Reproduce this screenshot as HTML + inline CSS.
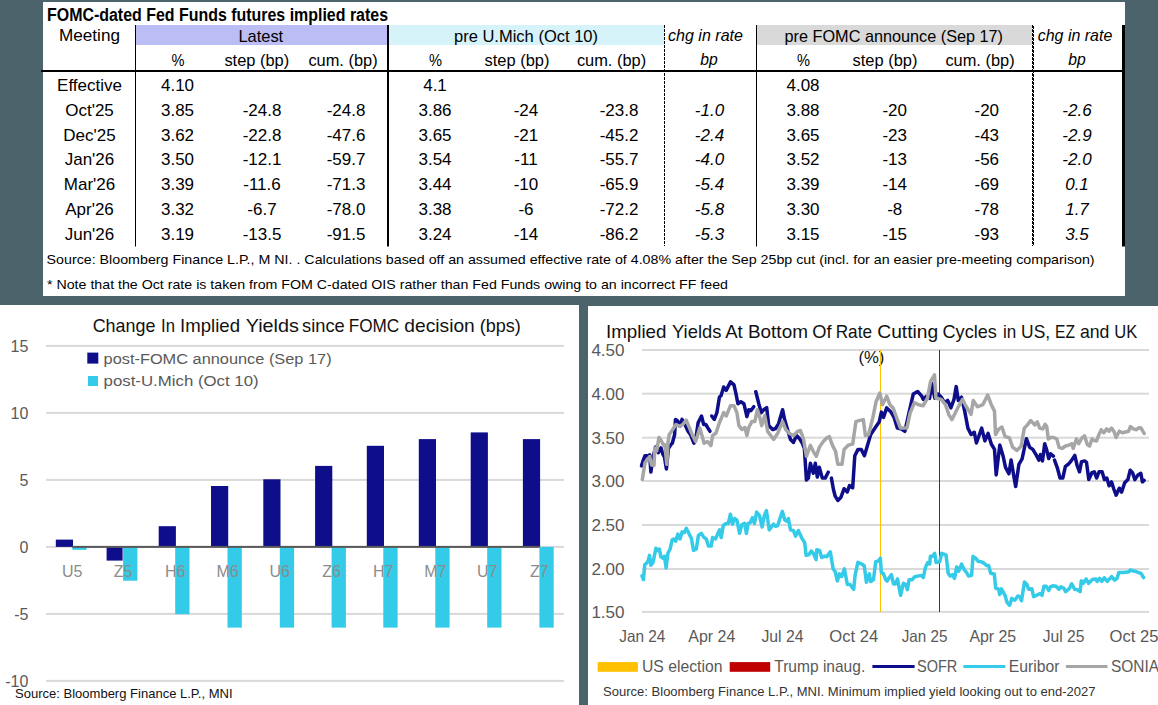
<!DOCTYPE html>
<html><head><meta charset="utf-8"><style>
html,body{margin:0;padding:0;background:#4b646b;}
body{width:1158px;height:705px;overflow:hidden;}
svg{display:block;font-family:"Liberation Sans",sans-serif;}
</style></head><body>
<svg width="1158" height="705" viewBox="0 0 1158 705">
<rect x="0" y="0" width="1158" height="705" fill="#4b646b" />
<rect x="43" y="2" width="1082" height="294" fill="#fff" />
<text x="47" y="21" font-size="18" fill="#000" text-anchor="start" font-weight="bold" textLength="341" lengthAdjust="spacingAndGlyphs">FOMC-dated Fed Funds futures implied rates</text>
<rect x="136" y="25" width="251" height="20" fill="#bdbdf5" />
<rect x="389" y="25" width="275" height="20" fill="#d5f3f8" />
<rect x="757" y="25" width="275" height="20" fill="#d9d9d9" />
<line x1="135.5" y1="25" x2="135.5" y2="246.5" stroke="#000" stroke-width="1" />
<line x1="388" y1="25" x2="388" y2="246.5" stroke="#000" stroke-width="2" />
<line x1="664.5" y1="25" x2="664.5" y2="246" stroke="#000" stroke-width="1" stroke-dasharray="3,1"/>
<line x1="756.5" y1="25" x2="756.5" y2="246.5" stroke="#000" stroke-width="1" />
<line x1="1032.5" y1="25" x2="1032.5" y2="246" stroke="#000" stroke-width="1" stroke-dasharray="3,1"/>
<line x1="1033.5" y1="26" x2="1033.5" y2="246" stroke="#000" stroke-width="1" stroke-dasharray="3,1"/>
<rect x="1122" y="25" width="3" height="221.5" fill="#000" />
<rect x="41" y="70" width="1084" height="2" fill="#000" />
<text x="89.5" y="41.2" font-size="17" fill="#000" text-anchor="middle" textLength="61" lengthAdjust="spacingAndGlyphs">Meeting</text>
<text x="260.8" y="42" font-size="17" fill="#000" text-anchor="middle" textLength="44.8" lengthAdjust="spacingAndGlyphs">Latest</text>
<text x="526" y="42" font-size="17" fill="#000" text-anchor="middle" textLength="144" lengthAdjust="spacingAndGlyphs">pre U.Mich (Oct 10)</text>
<text x="705.5" y="40.7" font-size="17" fill="#000" text-anchor="middle" font-style="italic" textLength="75" lengthAdjust="spacingAndGlyphs">chg in rate</text>
<text x="893.8" y="42" font-size="17" fill="#000" text-anchor="middle" textLength="218.4" lengthAdjust="spacingAndGlyphs">pre FOMC announce (Sep 17)</text>
<text x="1075" y="40.7" font-size="17" fill="#000" text-anchor="middle" font-style="italic" textLength="74.6" lengthAdjust="spacingAndGlyphs">chg in rate</text>
<text x="178" y="65.5" font-size="17" fill="#000" text-anchor="middle" textLength="13" lengthAdjust="spacingAndGlyphs">%</text>
<text x="256.8" y="65.5" font-size="17" fill="#000" text-anchor="middle" textLength="64.8" lengthAdjust="spacingAndGlyphs">step (bp)</text>
<text x="343" y="65.5" font-size="17" fill="#000" text-anchor="middle" textLength="69.2" lengthAdjust="spacingAndGlyphs">cum. (bp)</text>
<text x="435.4" y="65.5" font-size="17" fill="#000" text-anchor="middle" textLength="13" lengthAdjust="spacingAndGlyphs">%</text>
<text x="517" y="65.5" font-size="17" fill="#000" text-anchor="middle" textLength="64.8" lengthAdjust="spacingAndGlyphs">step (bp)</text>
<text x="611.5" y="65.5" font-size="17" fill="#000" text-anchor="middle" textLength="69.2" lengthAdjust="spacingAndGlyphs">cum. (bp)</text>
<text x="803.5" y="65.5" font-size="17" fill="#000" text-anchor="middle" textLength="13" lengthAdjust="spacingAndGlyphs">%</text>
<text x="885" y="65.5" font-size="17" fill="#000" text-anchor="middle" textLength="64.8" lengthAdjust="spacingAndGlyphs">step (bp)</text>
<text x="980" y="65.5" font-size="17" fill="#000" text-anchor="middle" textLength="69.2" lengthAdjust="spacingAndGlyphs">cum. (bp)</text>
<text x="709" y="65.0" font-size="17" fill="#000" text-anchor="middle" font-style="italic" textLength="17.5" lengthAdjust="spacingAndGlyphs">bp</text>
<text x="1077" y="65.0" font-size="17" fill="#000" text-anchor="middle" font-style="italic" textLength="17.5" lengthAdjust="spacingAndGlyphs">bp</text>
<text x="89.5" y="90.8" font-size="17" fill="#000" text-anchor="middle">Effective</text>
<text x="177.5" y="90.8" font-size="17" fill="#000" text-anchor="middle">4.10</text>
<text x="435" y="90.8" font-size="17" fill="#000" text-anchor="middle">4.1</text>
<text x="803" y="90.8" font-size="17" fill="#000" text-anchor="middle">4.08</text>
<text x="89.5" y="115.65" font-size="17" fill="#000" text-anchor="middle">Oct'25</text>
<text x="177.5" y="115.65" font-size="17" fill="#000" text-anchor="middle">3.85</text>
<text x="262" y="115.65" font-size="17" fill="#000" text-anchor="middle">-24.8</text>
<text x="346" y="115.65" font-size="17" fill="#000" text-anchor="middle">-24.8</text>
<text x="435" y="115.65" font-size="17" fill="#000" text-anchor="middle">3.86</text>
<text x="526" y="115.65" font-size="17" fill="#000" text-anchor="middle">-24</text>
<text x="619" y="115.65" font-size="17" fill="#000" text-anchor="middle">-23.8</text>
<text x="709.5" y="115.65" font-size="17" fill="#000" text-anchor="middle" font-style="italic">-1.0</text>
<text x="803" y="115.65" font-size="17" fill="#000" text-anchor="middle">3.88</text>
<text x="894.7" y="115.65" font-size="17" fill="#000" text-anchor="middle">-20</text>
<text x="986.8" y="115.65" font-size="17" fill="#000" text-anchor="middle">-20</text>
<text x="1077" y="115.65" font-size="17" fill="#000" text-anchor="middle" font-style="italic">-2.6</text>
<text x="89.5" y="140.5" font-size="17" fill="#000" text-anchor="middle">Dec'25</text>
<text x="177.5" y="140.5" font-size="17" fill="#000" text-anchor="middle">3.62</text>
<text x="262" y="140.5" font-size="17" fill="#000" text-anchor="middle">-22.8</text>
<text x="346" y="140.5" font-size="17" fill="#000" text-anchor="middle">-47.6</text>
<text x="435" y="140.5" font-size="17" fill="#000" text-anchor="middle">3.65</text>
<text x="526" y="140.5" font-size="17" fill="#000" text-anchor="middle">-21</text>
<text x="619" y="140.5" font-size="17" fill="#000" text-anchor="middle">-45.2</text>
<text x="709.5" y="140.5" font-size="17" fill="#000" text-anchor="middle" font-style="italic">-2.4</text>
<text x="803" y="140.5" font-size="17" fill="#000" text-anchor="middle">3.65</text>
<text x="894.7" y="140.5" font-size="17" fill="#000" text-anchor="middle">-23</text>
<text x="986.8" y="140.5" font-size="17" fill="#000" text-anchor="middle">-43</text>
<text x="1077" y="140.5" font-size="17" fill="#000" text-anchor="middle" font-style="italic">-2.9</text>
<text x="89.5" y="165.35000000000002" font-size="17" fill="#000" text-anchor="middle">Jan'26</text>
<text x="177.5" y="165.35000000000002" font-size="17" fill="#000" text-anchor="middle">3.50</text>
<text x="262" y="165.35000000000002" font-size="17" fill="#000" text-anchor="middle">-12.1</text>
<text x="346" y="165.35000000000002" font-size="17" fill="#000" text-anchor="middle">-59.7</text>
<text x="435" y="165.35000000000002" font-size="17" fill="#000" text-anchor="middle">3.54</text>
<text x="526" y="165.35000000000002" font-size="17" fill="#000" text-anchor="middle">-11</text>
<text x="619" y="165.35000000000002" font-size="17" fill="#000" text-anchor="middle">-55.7</text>
<text x="709.5" y="165.35000000000002" font-size="17" fill="#000" text-anchor="middle" font-style="italic">-4.0</text>
<text x="803" y="165.35000000000002" font-size="17" fill="#000" text-anchor="middle">3.52</text>
<text x="894.7" y="165.35000000000002" font-size="17" fill="#000" text-anchor="middle">-13</text>
<text x="986.8" y="165.35000000000002" font-size="17" fill="#000" text-anchor="middle">-56</text>
<text x="1077" y="165.35000000000002" font-size="17" fill="#000" text-anchor="middle" font-style="italic">-2.0</text>
<text x="89.5" y="190.2" font-size="17" fill="#000" text-anchor="middle">Mar'26</text>
<text x="177.5" y="190.2" font-size="17" fill="#000" text-anchor="middle">3.39</text>
<text x="262" y="190.2" font-size="17" fill="#000" text-anchor="middle">-11.6</text>
<text x="346" y="190.2" font-size="17" fill="#000" text-anchor="middle">-71.3</text>
<text x="435" y="190.2" font-size="17" fill="#000" text-anchor="middle">3.44</text>
<text x="526" y="190.2" font-size="17" fill="#000" text-anchor="middle">-10</text>
<text x="619" y="190.2" font-size="17" fill="#000" text-anchor="middle">-65.9</text>
<text x="709.5" y="190.2" font-size="17" fill="#000" text-anchor="middle" font-style="italic">-5.4</text>
<text x="803" y="190.2" font-size="17" fill="#000" text-anchor="middle">3.39</text>
<text x="894.7" y="190.2" font-size="17" fill="#000" text-anchor="middle">-14</text>
<text x="986.8" y="190.2" font-size="17" fill="#000" text-anchor="middle">-69</text>
<text x="1077" y="190.2" font-size="17" fill="#000" text-anchor="middle" font-style="italic">0.1</text>
<text x="89.5" y="215.05" font-size="17" fill="#000" text-anchor="middle">Apr'26</text>
<text x="177.5" y="215.05" font-size="17" fill="#000" text-anchor="middle">3.32</text>
<text x="262" y="215.05" font-size="17" fill="#000" text-anchor="middle">-6.7</text>
<text x="346" y="215.05" font-size="17" fill="#000" text-anchor="middle">-78.0</text>
<text x="435" y="215.05" font-size="17" fill="#000" text-anchor="middle">3.38</text>
<text x="526" y="215.05" font-size="17" fill="#000" text-anchor="middle">-6</text>
<text x="619" y="215.05" font-size="17" fill="#000" text-anchor="middle">-72.2</text>
<text x="709.5" y="215.05" font-size="17" fill="#000" text-anchor="middle" font-style="italic">-5.8</text>
<text x="803" y="215.05" font-size="17" fill="#000" text-anchor="middle">3.30</text>
<text x="894.7" y="215.05" font-size="17" fill="#000" text-anchor="middle">-8</text>
<text x="986.8" y="215.05" font-size="17" fill="#000" text-anchor="middle">-78</text>
<text x="1077" y="215.05" font-size="17" fill="#000" text-anchor="middle" font-style="italic">1.7</text>
<text x="89.5" y="239.90000000000003" font-size="17" fill="#000" text-anchor="middle">Jun'26</text>
<text x="177.5" y="239.90000000000003" font-size="17" fill="#000" text-anchor="middle">3.19</text>
<text x="262" y="239.90000000000003" font-size="17" fill="#000" text-anchor="middle">-13.5</text>
<text x="346" y="239.90000000000003" font-size="17" fill="#000" text-anchor="middle">-91.5</text>
<text x="435" y="239.90000000000003" font-size="17" fill="#000" text-anchor="middle">3.24</text>
<text x="526" y="239.90000000000003" font-size="17" fill="#000" text-anchor="middle">-14</text>
<text x="619" y="239.90000000000003" font-size="17" fill="#000" text-anchor="middle">-86.2</text>
<text x="709.5" y="239.90000000000003" font-size="17" fill="#000" text-anchor="middle" font-style="italic">-5.3</text>
<text x="803" y="239.90000000000003" font-size="17" fill="#000" text-anchor="middle">3.15</text>
<text x="894.7" y="239.90000000000003" font-size="17" fill="#000" text-anchor="middle">-15</text>
<text x="986.8" y="239.90000000000003" font-size="17" fill="#000" text-anchor="middle">-93</text>
<text x="1077" y="239.90000000000003" font-size="17" fill="#000" text-anchor="middle" font-style="italic">3.5</text>
<text x="46.6" y="263.9" font-size="12.9" fill="#000" text-anchor="start" textLength="1048" lengthAdjust="spacingAndGlyphs">Source: Bloomberg Finance L.P., M NI. . Calculations based off an assumed effective rate of 4.08% after the Sep 25bp cut (incl. for an easier pre-meeting comparison)</text>
<text x="47" y="288.6" font-size="12.9" fill="#000" text-anchor="start" textLength="681" lengthAdjust="spacingAndGlyphs">* Note that the Oct rate is taken from FOM C-dated OIS rather than Fed Funds owing to an incorrect FF feed</text>
<rect x="0" y="305" width="579" height="400" fill="#fff" />
<text x="92.7" y="332.4" font-size="19" fill="#111" text-anchor="start" textLength="62.7" lengthAdjust="spacingAndGlyphs">Change</text>
<text x="161.1" y="332.4" font-size="19" fill="#111" text-anchor="start" textLength="13.9" lengthAdjust="spacingAndGlyphs">In</text>
<text x="180.1" y="332.4" font-size="19" fill="#111" text-anchor="start" textLength="59.9" lengthAdjust="spacingAndGlyphs">Implied</text>
<text x="245.7" y="332.4" font-size="19" fill="#111" text-anchor="start" textLength="53.2" lengthAdjust="spacingAndGlyphs">Yields</text>
<text x="302" y="332.4" font-size="19" fill="#111" text-anchor="start" textLength="42.7" lengthAdjust="spacingAndGlyphs">since</text>
<text x="348.7" y="332.4" font-size="19" fill="#111" text-anchor="start" textLength="50.6" lengthAdjust="spacingAndGlyphs">FOMC</text>
<text x="404.3" y="332.4" font-size="19" fill="#111" text-anchor="start" textLength="70.5" lengthAdjust="spacingAndGlyphs">decision</text>
<text x="479.7" y="332.4" font-size="19" fill="#111" text-anchor="start" textLength="41.2" lengthAdjust="spacingAndGlyphs">(bps)</text>
<rect x="46" y="344.9" width="518" height="2" fill="#d9d9d9" />
<text x="28.4" y="351.5" font-size="16" fill="#595959" text-anchor="end">15</text>
<rect x="46" y="411.9" width="518" height="2" fill="#d9d9d9" />
<text x="28.4" y="418.5" font-size="16" fill="#595959" text-anchor="end">10</text>
<rect x="46" y="478.9" width="518" height="2" fill="#d9d9d9" />
<text x="28.4" y="485.5" font-size="16" fill="#595959" text-anchor="end">5</text>
<rect x="46" y="545.9" width="518" height="2" fill="#d9d9d9" />
<text x="28.4" y="552.5" font-size="16" fill="#595959" text-anchor="end">0</text>
<rect x="46" y="612.9" width="518" height="2" fill="#d9d9d9" />
<text x="28.4" y="619.5" font-size="16" fill="#595959" text-anchor="end">-5</text>
<rect x="46" y="679.9" width="518" height="2" fill="#d9d9d9" />
<text x="28.4" y="686.5" font-size="16" fill="#595959" text-anchor="end">-10</text>
<rect x="55.8" y="539.6" width="17.2" height="7.3" fill="#0e0e8a" />
<rect x="72.3" y="546.9" width="14.3" height="2.98" fill="#33cbe8" />
<rect x="106.6" y="546.9" width="16.0" height="13.7" fill="#0e0e8a" />
<rect x="123.1" y="546.9" width="14.3" height="33.8" fill="#33cbe8" />
<rect x="158.7" y="526.2" width="17.2" height="20.7" fill="#0e0e8a" />
<rect x="175.2" y="546.9" width="14.3" height="67.3" fill="#33cbe8" />
<rect x="211.0" y="486.0" width="17.2" height="60.9" fill="#0e0e8a" />
<rect x="227.5" y="546.9" width="14.3" height="80.7" fill="#33cbe8" />
<rect x="263.3" y="479.3" width="17.2" height="67.6" fill="#0e0e8a" />
<rect x="279.8" y="546.9" width="14.3" height="80.7" fill="#33cbe8" />
<rect x="315.1" y="465.9" width="17.2" height="81.0" fill="#0e0e8a" />
<rect x="331.6" y="546.9" width="14.3" height="80.7" fill="#33cbe8" />
<rect x="366.8" y="445.8" width="17.2" height="101.1" fill="#0e0e8a" />
<rect x="383.3" y="546.9" width="14.3" height="80.7" fill="#33cbe8" />
<rect x="418.8" y="439.1" width="17.2" height="107.8" fill="#0e0e8a" />
<rect x="435.3" y="546.9" width="14.3" height="80.7" fill="#33cbe8" />
<rect x="470.7" y="432.4" width="17.2" height="114.5" fill="#0e0e8a" />
<rect x="487.2" y="546.9" width="14.3" height="80.7" fill="#33cbe8" />
<rect x="522.9" y="439.1" width="17.2" height="107.8" fill="#0e0e8a" />
<rect x="539.4" y="546.9" width="14.3" height="80.7" fill="#33cbe8" />
<rect x="72.3" y="545.9" width="467.1" height="2" fill="#595959" />
<text x="72.3" y="576.8" font-size="16" fill="#8c8c8c" text-anchor="middle">U5</text>
<text x="123.1" y="576.8" font-size="16" fill="#8c8c8c" text-anchor="middle">Z5</text>
<text x="175.2" y="576.8" font-size="16" fill="#8c8c8c" text-anchor="middle">H6</text>
<text x="227.5" y="576.8" font-size="16" fill="#8c8c8c" text-anchor="middle">M6</text>
<text x="279.8" y="576.8" font-size="16" fill="#8c8c8c" text-anchor="middle">U6</text>
<text x="331.6" y="576.8" font-size="16" fill="#8c8c8c" text-anchor="middle">Z6</text>
<text x="383.3" y="576.8" font-size="16" fill="#8c8c8c" text-anchor="middle">H7</text>
<text x="435.3" y="576.8" font-size="16" fill="#8c8c8c" text-anchor="middle">M7</text>
<text x="487.2" y="576.8" font-size="16" fill="#8c8c8c" text-anchor="middle">U7</text>
<text x="539.4" y="576.8" font-size="16" fill="#8c8c8c" text-anchor="middle">Z7</text>
<rect x="87.3" y="352.6" width="11" height="11" fill="#0e0e8a" />
<text x="103.6" y="363.5" font-size="15.5" fill="#595959" text-anchor="start" textLength="228" lengthAdjust="spacingAndGlyphs">post-FOMC announce (Sep 17)</text>
<rect x="88" y="376" width="10" height="10" fill="#33cbe8" />
<text x="103.6" y="386" font-size="15.5" fill="#595959" text-anchor="start" textLength="155" lengthAdjust="spacingAndGlyphs">post-U.Mich (Oct 10)</text>
<text x="15" y="697.7" font-size="13.5" fill="#111" text-anchor="start" textLength="217.6" lengthAdjust="spacingAndGlyphs">Source: Bloomberg Finance L.P., MNI</text>
<rect x="588" y="306" width="570" height="399" fill="#fff" />
<text x="606" y="338" font-size="19" fill="#111" text-anchor="start" textLength="60.5" lengthAdjust="spacingAndGlyphs">Implied</text>
<text x="672" y="338" font-size="19" fill="#111" text-anchor="start" textLength="49.4" lengthAdjust="spacingAndGlyphs">Yields</text>
<text x="725.2" y="338" font-size="19" fill="#111" text-anchor="start" textLength="17.5" lengthAdjust="spacingAndGlyphs">At</text>
<text x="748" y="338" font-size="19" fill="#111" text-anchor="start" textLength="59.9" lengthAdjust="spacingAndGlyphs">Bottom</text>
<text x="812.3" y="338" font-size="19" fill="#111" text-anchor="start" textLength="19.3" lengthAdjust="spacingAndGlyphs">Of</text>
<text x="835.7" y="338" font-size="19" fill="#111" text-anchor="start" textLength="36.3" lengthAdjust="spacingAndGlyphs">Rate</text>
<text x="877.3" y="338" font-size="19" fill="#111" text-anchor="start" textLength="60.9" lengthAdjust="spacingAndGlyphs">Cutting</text>
<text x="942.5" y="338" font-size="19" fill="#111" text-anchor="start" textLength="54.4" lengthAdjust="spacingAndGlyphs">Cycles</text>
<text x="1003" y="338" font-size="19" fill="#111" text-anchor="start" textLength="13.3" lengthAdjust="spacingAndGlyphs">in</text>
<text x="1021.1" y="338" font-size="19" fill="#111" text-anchor="start" textLength="29.0" lengthAdjust="spacingAndGlyphs">US,</text>
<text x="1055" y="338" font-size="19" fill="#111" text-anchor="start" textLength="20" lengthAdjust="spacingAndGlyphs">EZ</text>
<text x="1079.9" y="338" font-size="19" fill="#111" text-anchor="start" textLength="29.5" lengthAdjust="spacingAndGlyphs">and</text>
<text x="1114.2" y="338" font-size="19" fill="#111" text-anchor="start" textLength="23.0" lengthAdjust="spacingAndGlyphs">UK</text>
<rect x="642" y="349" width="507" height="2" fill="#d9d9d9" />
<text x="624.6" y="356.3" font-size="16.5" fill="#595959" text-anchor="end" textLength="33.2" lengthAdjust="spacingAndGlyphs">4.50</text>
<rect x="642" y="392.7" width="507" height="2" fill="#d9d9d9" />
<text x="624.6" y="400.0" font-size="16.5" fill="#595959" text-anchor="end" textLength="33.2" lengthAdjust="spacingAndGlyphs">4.00</text>
<rect x="642" y="436.7" width="507" height="2" fill="#d9d9d9" />
<text x="624.6" y="444.0" font-size="16.5" fill="#595959" text-anchor="end" textLength="33.2" lengthAdjust="spacingAndGlyphs">3.50</text>
<rect x="642" y="480" width="507" height="2" fill="#d9d9d9" />
<text x="624.6" y="487.3" font-size="16.5" fill="#595959" text-anchor="end" textLength="33.2" lengthAdjust="spacingAndGlyphs">3.00</text>
<rect x="642" y="524" width="507" height="2" fill="#d9d9d9" />
<text x="624.6" y="531.3" font-size="16.5" fill="#595959" text-anchor="end" textLength="33.2" lengthAdjust="spacingAndGlyphs">2.50</text>
<rect x="642" y="568" width="507" height="2" fill="#d9d9d9" />
<text x="624.6" y="575.3" font-size="16.5" fill="#595959" text-anchor="end" textLength="33.2" lengthAdjust="spacingAndGlyphs">2.00</text>
<rect x="642" y="610.9" width="507" height="2" fill="#d9d9d9" />
<text x="624.6" y="618.1999999999999" font-size="16.5" fill="#595959" text-anchor="end" textLength="33.2" lengthAdjust="spacingAndGlyphs">1.50</text>
<text x="858.4" y="362.6" font-size="16" fill="#111" text-anchor="start" textLength="26" lengthAdjust="spacingAndGlyphs">(%)</text>
<text x="642.3" y="641.9" font-size="16.5" fill="#595959" text-anchor="middle" textLength="46.2" lengthAdjust="spacingAndGlyphs">Jan 24</text>
<text x="711.8" y="641.9" font-size="16.5" fill="#595959" text-anchor="middle" textLength="47" lengthAdjust="spacingAndGlyphs">Apr 24</text>
<text x="782.5" y="641.9" font-size="16.5" fill="#595959" text-anchor="middle" textLength="42.1" lengthAdjust="spacingAndGlyphs">Jul 24</text>
<text x="853.8" y="641.9" font-size="16.5" fill="#595959" text-anchor="middle" textLength="48.9" lengthAdjust="spacingAndGlyphs">Oct 24</text>
<text x="924.6" y="641.9" font-size="16.5" fill="#595959" text-anchor="middle" textLength="45.8" lengthAdjust="spacingAndGlyphs">Jan 25</text>
<text x="992.8" y="641.9" font-size="16.5" fill="#595959" text-anchor="middle" textLength="46.8" lengthAdjust="spacingAndGlyphs">Apr 25</text>
<text x="1063.5" y="641.9" font-size="16.5" fill="#595959" text-anchor="middle" textLength="41.7" lengthAdjust="spacingAndGlyphs">Jul 25</text>
<text x="1134" y="641.9" font-size="16.5" fill="#595959" text-anchor="middle" textLength="48.9" lengthAdjust="spacingAndGlyphs">Oct 25</text>
<rect x="880" y="350" width="1" height="262" fill="#ffc000" />
<rect x="939" y="350" width="1" height="262" fill="#c00000" />
<polyline points="641.5,465.9 643.5,459.6 645.0,455.7 647.4,455.7 648.5,458.0 649.7,454.9 650.9,472.1 652.5,460.0 655.5,447.1 658.3,452.6 661.0,447.9 662.9,454.2 664.5,457.3 666.4,469.0 668.4,448.7 670.7,444.8 672.3,443.3 674.6,434.7 675.5,419.4 677.7,421.0 680.0,426.0 682.0,419.4 684.5,423.6 688.0,431.3 690.5,434.7 693.9,443.2 696.4,434.7 698.1,422.8 701.5,416.0 703.7,424.5 705.8,424.5 708.3,428.7 710.0,431.3" fill="none" stroke="#0e0e8a" stroke-width="3.5" stroke-linejoin="round" stroke-linecap="round"/>
<polyline points="711.7,416.0 714.3,419.4 716.9,412.6 719.4,397.2 721.1,395.5 723.7,387.0 726.2,390.4 730.5,381.9 734.0,384.9 736.0,393.8 737.9,403.7 740.9,401.7 743.9,403.7 746.9,416.6 748.8,409.7 750.8,410.7 753.8,406.7" fill="none" stroke="#0e0e8a" stroke-width="3.5" stroke-linejoin="round" stroke-linecap="round"/>
<polyline points="755.8,391.8 758.8,403.7 761.3,412.7 763.7,409.7 766.7,407.7 768.7,425.6 770.7,427.5 772.7,429.5 775.6,428.5 778.6,423.6 782.6,409.7 784.6,419.6 787.5,429.5 790.5,439.4 793.5,442.4 796.5,435.5 799.4,438.5 802.4,443.4 804.4,448.4 806.4,480.1 808.4,478.1 810.4,463.3 813.3,473.2 815.3,463.3 817.3,477.1 819.3,467.2 822.3,478.1 825.2,478.1 828.2,472.2" fill="none" stroke="#0e0e8a" stroke-width="3.5" stroke-linejoin="round" stroke-linecap="round"/>
<polyline points="831.4,478.1 833.5,489.8 835.2,496.2 837.8,500.4 841.0,497.2 844.1,488.7 847.3,491.9 849.5,485.5 852.7,487.7 854.8,455.7 858.0,449.4 861.2,449.4 864.4,455.7 867.6,445.1 870.7,434.5 875.0,428.1 879.3,421.7 881.4,412.1 883.5,417.4 886.7,407.9 891.0,412.1 894.1,417.4 897.3,428.1 901.6,429.1 904.8,431.3 908.0,417.4 910.1,407.9 913.3,394.0 917.6,391.5 921.8,396.2 923.2,399.4 926.4,396.2 929.6,398.3 931.7,383.4 934.9,398.3 938.1,394.0 941.3,397.2 944.5,402.6 947.7,400.4 950.9,407.9 954.0,399.4 956.2,386.6 958.3,400.4 961.5,397.2 964.7,411.1 967.9,428.1 971.1,434.5 974.3,432.3 976.4,443.0 981.7,428.1 984.9,440.9 988.1,433.4 991.3,444.0 994.5,449.4 996.2,474.9 999.8,445.1 1003.0,455.7 1005.5,467.4 1008.9,473.8 1011.1,460.0 1013.6,474.9 1015.7,486.6 1018.9,464.3 1022.1,458.9 1026.4,438.7 1029.6,447.2 1032.8,449.4 1036.0,454.7 1038.9,460.1 1040.5,454.6 1042.5,460.9 1044.7,443.7 1046.7,449.9 1048.7,458.5 1050.6,453.8 1053.4,456.2" fill="none" stroke="#0e0e8a" stroke-width="3.5" stroke-linejoin="round" stroke-linecap="round"/>
<polyline points="1054.5,460.1 1057.6,468.7 1060.0,478.0 1062.8,478.0 1065.4,466.3 1068.6,464.0 1071.2,460.9 1074.8,455.4 1077.1,465.5 1079.5,471.8 1081.5,461.6 1084.6,460.9 1086.5,462.4 1088.8,479.6 1092.0,472.6 1094.3,471.8 1096.6,478.0 1099.0,471.8 1102.1,471.8 1104.4,479.6 1106.8,478.0 1109.1,485.8 1111.5,481.9 1113.8,489.0 1116.1,495.2 1119.3,488.2 1121.6,492.1 1124.7,482.7 1127.9,479.6 1130.2,470.2 1132.5,472.6 1134.9,479.6 1138.0,474.9 1140.8,473.3 1142.4,481.9 1144.2,480.4" fill="none" stroke="#0e0e8a" stroke-width="3.5" stroke-linejoin="round" stroke-linecap="round"/>
<polyline points="642.0,575.9 643.4,579.5 644.8,564.6 646.6,563.2 648.1,561.0 649.5,555.4 650.9,565.3 653.0,562.4 655.9,548.3 658.0,550.4 659.4,549.0 660.8,556.8 663.0,558.2 664.4,556.1 666.1,568.1 667.9,553.2 670.1,549.0 672.2,539.7 673.6,539.0 675.7,541.2 677.9,534.1 680.0,539.0 682.1,531.9 684.3,532.6 686.4,528.4 689.2,534.1 691.4,538.3 693.5,550.4 696.3,549.0 698.4,535.5 701.3,533.4 704.1,537.6 706.3,539.0 708.4,546.1 711.2,546.1 712.6,537.6 715.5,539.0 717.6,534.1 719.7,529.8 721.2,537.6 723.3,525.5 726.1,523.4 728.3,523.4 730.4,514.2 732.5,524.1 734.6,518.5 736.8,519.9 739.6,533.4 741.7,524.8 744.6,523.4 746.4,533.4 748.1,523.4 750.2,522.7 752.4,517.7 754.5,523.4 756.6,512.1 759.5,515.6 762.1,527.0 764.3,515.6 766.4,510.6 769.2,529.8 771.4,527.0 773.5,524.1 775.6,526.3 777.7,525.5 779.9,518.5 782.4,511.4 784.8,519.9 787.0,521.3 788.4,518.5 790.5,529.8 793.4,530.5 795.5,536.2 798.3,530.5 801.9,538.3 804.7,542.6 806.1,555.4 809.0,554.6 811.1,551.1 813.2,553.2 816.1,559.6 816.8,549.7 819.6,550.4 821.7,557.5 824.6,556.1 826.7,556.8 830.3,551.8 833.1,568.8 835.2,571.7 837.3,580.9 839.5,573.8 841.6,576.6 844.4,568.8 847.3,584.4 850.1,584.4 853.7,589.4 855.1,575.2 857.9,562.4 861.5,563.9 864.3,566.0 866.4,582.3 869.3,573.8 870.7,581.6 873.5,579.5 875.7,561.7 878.5,561.0 880.4,558.2 881.3,572.4 883.5,573.8 885.6,579.5 887.1,581.1 889.3,577.5 891.4,574.7 893.5,583.9 895.6,583.9 897.5,579.0 900.6,595.3 903.4,583.2 905.6,584.6 907.4,589.6 909.1,579.7 912.0,579.7 914.8,576.8 917.6,576.1 921.2,575.4 923.3,577.5 925.4,567.6 927.6,562.6 929.7,564.1 930.4,556.3 932.5,556.3 934.7,553.4 936.1,562.6 939.6,561.9 941.8,553.4 946.0,554.8 948.2,573.3 950.3,576.1 952.4,574.7 954.5,578.3 956.7,566.9 958.8,571.2 961.6,564.1 963.8,569.0 966.6,572.6 968.7,576.1 971.6,575.4 973.0,556.3 975.8,558.4 978.0,561.2 981.5,561.9 984.3,563.4 986.5,565.5 988.6,565.5 990.7,573.3 994.3,574.0 995.7,588.2 998.5,588.9 999.7,594.6 1001.4,588.9 1005.0,595.3 1007.0,602.4 1009.6,605.2 1011.8,598.4 1014.8,600.2 1017.9,596.0 1019.7,596.6 1021.5,600.8 1024.5,582.0 1026.9,584.5 1028.7,589.3 1031.8,588.7 1033.6,596.6 1036.6,595.3 1040.2,593.5 1042.0,595.3 1043.9,586.3 1046.3,586.3 1048.7,590.5 1050.5,586.9 1052.9,585.7 1056.0,586.3 1059.0,589.3 1060.8,586.9 1063.8,588.1 1065.6,591.7 1069.3,588.7 1071.7,583.9 1074.7,589.3 1077.7,589.9 1080.1,591.7 1081.3,580.8 1083.2,583.3 1086.2,579.0 1088.6,583.3 1092.2,579.6 1095.9,579.0 1097.1,581.4 1099.5,578.4 1101.9,581.4 1104.3,577.8 1107.3,581.4 1111.6,576.6 1114.6,580.2 1117.0,578.4 1118.8,572.4 1123.7,572.4 1129.1,571.8 1130.3,570.0 1134.5,571.2 1138.2,572.4 1141.2,573.6 1143.6,577.6" fill="none" stroke="#33cbe8" stroke-width="3.5" stroke-linejoin="round" stroke-linecap="round"/>
<polyline points="642.3,479.5 645.0,462.7 646.6,460.8 649.7,456.5 651.6,465.1 654.0,465.5 654.8,447.9 656.7,451.0 659.0,437.4 661.4,440.9 663.7,445.6 664.9,444.8 666.8,464.3 668.0,442.5 669.2,434.7 672.6,429.6 676.0,424.5 679.4,426.2 682.8,424.5 686.2,420.2 688.8,426.2 692.2,434.7 695.6,441.5 699.8,427.9 704.1,443.2 707.5,441.5 710.9,445.7 712.6,435.5 716.0,433.0 719.4,422.8 723.7,412.6 726.2,416.0 730.5,405.7 734.0,405.7 736.9,412.7 738.9,425.6 741.9,429.5 744.9,427.5 746.9,435.5 748.8,427.5 751.8,421.6 754.8,421.6 757.4,409.7 759.8,417.6 761.7,425.6 764.7,415.6 767.7,431.5 770.7,435.5 773.7,439.4 777.6,433.5 782.6,421.6 785.6,429.5 789.5,433.5 793.5,435.5 797.5,431.5 800.4,430.5 803.4,438.5 806.4,456.3 810.4,445.4 813.3,451.3 816.3,456.3 819.3,447.4 823.3,441.4 827.2,437.5 829.3,436.6 832.4,445.1 835.6,451.5 837.8,464.3 842.0,464.3 844.1,449.4 848.4,445.1 852.7,444.0 855.9,421.7 859.0,420.6 863.3,419.6 865.4,435.5 868.6,434.5 872.9,417.4 876.1,401.5 879.9,393.0 882.4,404.7 886.7,396.2 889.9,404.7 893.1,407.9 897.3,419.6 900.5,428.1 906.9,428.1 910.1,413.2 914.4,402.6 918.6,404.7 923.2,405.7 927.4,398.3 930.6,381.3 934.5,374.9 936.0,398.3 941.3,399.4 945.5,404.7 948.7,414.3 951.9,419.6 955.1,413.2 958.3,406.8 962.6,399.4 965.7,405.7 971.1,414.3 973.2,400.4 977.4,406.8 982.8,404.7 987.7,395.1 991.3,404.7 994.5,411.1 995.5,434.5 998.7,429.1 1001.9,427.0 1005.1,436.6 1009.4,437.7 1012.6,447.2 1016.8,450.4 1021.1,446.2 1024.3,428.1 1027.4,424.9 1030.6,420.6 1034.9,424.9 1037.3,421.8 1039.7,428.1 1042.8,428.9 1045.1,424.2 1046.7,426.5 1048.3,439.0 1050.6,437.5 1053.7,437.5 1056.8,439.0 1059.2,447.6 1062.3,448.4 1065.4,446.0 1068.6,445.3 1071.7,443.7 1073.2,448.4 1076.4,439.0 1078.7,443.7 1081.8,438.2 1084.6,435.9 1087.3,444.5 1089.6,446.0 1092.0,439.0 1094.3,440.6 1096.6,440.9 1099.0,434.3 1101.3,429.7 1103.7,432.8 1106.8,428.9 1109.1,431.2 1111.5,428.1 1113.8,431.2 1116.1,437.5 1119.3,431.2 1122.4,432.8 1125.5,432.0 1128.6,431.2 1130.5,426.5 1133.3,428.9 1136.4,429.7 1138.8,427.8 1141.1,428.1 1144.2,433.5" fill="none" stroke="#a6a6a6" stroke-width="3.5" stroke-linejoin="round" stroke-linecap="round"/>
<rect x="597.7" y="662.1" width="40.2" height="9.7" fill="#ffc000" />
<text x="642" y="671.8" font-size="17" fill="#595959" text-anchor="start" textLength="80.4" lengthAdjust="spacingAndGlyphs">US election</text>
<rect x="729.7" y="662.1" width="40.5" height="9.7" fill="#c00000" />
<text x="774.3" y="671.8" font-size="17" fill="#595959" text-anchor="start" textLength="90.9" lengthAdjust="spacingAndGlyphs">Trump inaug.</text>
<rect x="872.4" y="665" width="42.2" height="3" fill="#0e0e8a" />
<text x="917" y="671.8" font-size="17" fill="#595959" text-anchor="start" textLength="40.3" lengthAdjust="spacingAndGlyphs">SOFR</text>
<rect x="963.4" y="665" width="42" height="3" fill="#33cbe8" />
<text x="1008.7" y="671.8" font-size="17" fill="#595959" text-anchor="start" textLength="50.7" lengthAdjust="spacingAndGlyphs">Euribor</text>
<rect x="1065.9" y="665" width="41.6" height="3" fill="#a6a6a6" />
<text x="1111" y="671.8" font-size="17" fill="#595959" text-anchor="start" textLength="48" lengthAdjust="spacingAndGlyphs">SONIA</text>
<text x="603.1" y="695.5" font-size="12.6" fill="#333" text-anchor="start" textLength="492.4" lengthAdjust="spacingAndGlyphs">Source: Bloomberg Finance L.P., MNI. Minimum implied yield looking out to end-2027</text>
</svg>
</body></html>
